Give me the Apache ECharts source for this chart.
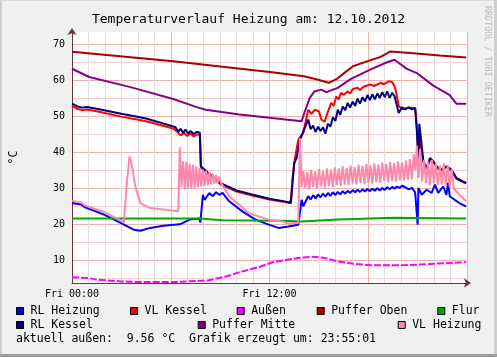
<!DOCTYPE html>
<html>
<head>
<meta charset="utf-8">
<script src="https://cdn.jsdelivr.net/npm/echarts@6/dist/echarts.min.js"></script>
<style>
html,body{margin:0;padding:0;background:#f0f0f0;}
#c{width:497px;height:357px;}
</style>
</head>
<body>
<div id="c"></div>
<script>
// ---- data (hours since Fri 00:00, °C) ----
const seriesNames = ['RL Heizung','VL Kessel','Außen','Puffer Oben','Flur','RL Kessel','Puffer Mitte','VL Heizung'];
const seriesColors = ['#0000ff','#ff0000','#ff00ff','#aa0000','#00aa00','#000080','#880088','#ff88aa'];
const yTickLabels = [10,20,30,40,50,60,70];
const yGridValues = [5,10,15,20,25,30,35,40,45,50,55,60,65,70];
const xTickLabels = {0:'Fri 00:00', 12:'Fri 12:00'};

const rlHeizung = [[0,26.0],[0.55,25.6],[0.75,24.9],[1.95,22.8],[2.95,20.5],[3.05,20.1],[3.75,18.6],[4.15,18.3],[4.75,19.1],[5.55,19.7],[6.55,20.1],[7.15,21.4],[7.75,21.7],[7.8,20.6],[7.95,28.3],[8.05,26.9],[8.35,28.8],[8.55,27.9],[8.75,29.0],[8.95,28.3],[9.15,28.8],[9.55,26.5],[10.35,23.7],[11.15,21.4],[11.95,20.0],[12.55,19.1],[13.15,19.5],[13.75,20.0],[13.95,26.9],[14.05,25.1],[14.35,27.9],[14.5,27.0],[14.65,28.2],[14.8,27.3],[14.95,28.4],[15.1,27.6],[15.25,28.6],[15.4,27.8],[15.55,28.8],[15.7,28.0],[15.85,29.0],[16.0,28.2],[16.15,29.1],[16.3,28.4],[16.45,29.3],[16.6,28.6],[16.75,29.4],[16.9,28.8],[17.05,29.6],[17.2,29.0],[17.35,29.7],[17.5,29.1],[17.65,29.8],[17.8,29.2],[17.95,29.9],[18.1,29.3],[18.25,30.0],[18.4,29.4],[18.55,30.1],[18.7,29.5],[18.85,30.2],[19.0,29.6],[19.15,30.4],[19.3,29.8],[19.45,30.5],[19.6,30.0],[19.75,30.6],[19.9,30.2],[20.05,30.8],[20.25,30.4],[20.45,29.8],[20.65,30.2],[20.85,29.0],[21.0,20.0],[21.05,30.2],[21.25,28.3],[21.55,29.7],[21.85,28.8],[22.05,31.1],[22.25,28.8],[22.55,30.6],[22.75,28.3],[22.85,31.6],[22.95,27.9],[23.25,26.9],[23.6,25.8],[23.95,25.1]];

const vlKessel = [[0,52.9],[0.3,52.2],[0.6,51.8],[0.9,52.0],[1.5,51.5],[3,50.0],[4.5,48.7],[6.15,46.7],[6.4,45.8],[6.6,44.8],[6.8,45.5],[7.0,44.6],[7.2,45.3],[7.4,44.5],[7.6,45.1],[7.77,44.8],[7.83,35.8],[8.0,35.2],[8.5,33.2],[9.0,31.3],[10,29.2],[11,28.0],[12,27.0],[13,26.2],[13.2,26.0],[13.3,27.0],[13.4,33.0],[13.55,38.5],[13.75,43.6],[14.05,45.5],[14.35,51.9],[14.55,50.8],[14.75,51.9],[15.0,51.5],[15.15,49.2],[15.35,48.6],[15.45,50.1],[15.75,53.8],[15.9,53.0],[16.05,55.5],[16.2,54.8],[16.35,56.6],[16.5,56.0],[16.75,57.0],[16.9,56.4],[17.05,57.6],[17.35,58.0],[17.5,57.4],[17.7,58.3],[18.15,58.9],[18.35,58.5],[18.75,59.4],[18.95,59.0],[19.25,59.8],[19.45,59.6],[19.6,58.4],[19.7,56.6],[19.85,52.9],[20.1,52.1],[20.5,52.5],[20.85,52.4],[20.95,47.0],[21.05,38.5],[21.1,45.0],[21.2,41.0],[21.35,37.4],[21.55,35.5],[21.75,38.0],[21.95,37.4],[22.25,35.5],[22.45,35.0],[22.75,36.0],[23.05,35.0],[23.35,32.8],[23.65,32.0],[23.95,31.4]];

const aussen = [[0,5.4],[0.95,5.2],[1.55,4.7],[2.95,4.25],[4.15,4.05],[6.15,4.05],[7.75,4.4],[8.15,4.4],[9.35,5.6],[10.35,7.0],[11.35,8.25],[12.15,9.5],[13.15,10.3],[13.75,10.75],[14.55,11.1],[15.15,10.9],[15.55,10.5],[16.15,9.8],[17.0,9.2],[18.15,8.7],[20.15,8.7],[21.75,9.1],[23.55,9.5],[23.95,9.56]];

const pufferOben = [[0,68.0],[6.15,65.4],[12.15,62.3],[14.1,61.2],[14.9,60.3],[15.6,59.4],[16.1,60.5],[16.65,62.5],[17.07,64.0],[17.97,65.4],[18.75,66.6],[19.35,68.1],[20.55,67.7],[22.35,67.0],[23.95,66.4]];

const flur = [[0,21.7],[4,21.7],[7.75,21.7],[9.15,21.2],[12.75,21.1],[13.95,20.9],[16.15,21.4],[19.55,21.9],[23.95,21.7]];

const rlKessel = [[0,53.6],[0.3,52.9],[0.6,52.5],[0.9,52.7],[1.5,52.2],[3,50.8],[4.5,49.5],[6.15,47.3],[6.3,47.0],[6.45,45.8],[6.6,46.6],[6.75,45.5],[6.9,46.4],[7.05,45.3],[7.2,46.0],[7.4,45.2],[7.6,45.8],[7.77,45.5],[7.83,36.2],[8.0,35.5],[8.5,33.5],[9.0,31.6],[10.0,29.5],[11.0,28.3],[12.0,27.2],[13.0,26.4],[13.3,26.0],[13.5,37.1],[13.65,38.5],[13.85,43.6],[14.15,46.9],[14.35,49.2],[14.5,46.5],[14.65,47.5],[14.8,45.8],[14.95,47.2],[15.1,46.0],[15.25,47.0],[15.4,45.3],[15.55,48.0],[15.7,47.2],[15.85,49.8],[16.0,48.8],[16.15,51.9],[16.3,50.5],[16.45,52.8],[16.6,51.8],[16.75,53.8],[16.9,52.5],[17.05,54.2],[17.2,53.0],[17.35,55.0],[17.5,53.6],[17.65,55.4],[17.8,54.2],[17.95,56.0],[18.1,54.6],[18.25,56.2],[18.4,54.8],[18.55,56.4],[18.7,55.2],[18.85,56.8],[19.0,55.4],[19.15,57.0],[19.3,55.2],[19.45,56.6],[19.6,55.6],[19.7,53.8],[19.85,51.0],[20.05,52.6],[20.25,52.0],[20.45,52.6],[20.65,52.0],[20.85,52.4],[20.95,46.4],[21.0,41.7],[21.05,38.0],[21.1,48.0],[21.2,44.0],[21.35,37.6],[21.55,35.7],[21.75,38.5],[21.95,37.6],[22.25,35.7],[22.45,35.3],[22.75,36.2],[23.05,35.3],[23.35,33.0],[23.65,32.2],[23.95,31.6]];

const pufferMitte = [[0,63.3],[1.05,61.0],[3.55,58.2],[6.15,54.9],[7.53,52.7],[8.13,51.9],[10.17,50.6],[12.15,49.6],[13.95,48.7],[14.15,51.5],[14.45,55.2],[14.73,57.0],[15.15,57.5],[15.45,56.8],[16.15,58.0],[16.95,60.5],[18.15,63.1],[19.15,65.1],[19.59,65.8],[20.35,63.25],[20.95,62.1],[21.95,58.6],[22.95,56.0],[23.35,53.6],[23.95,53.6]];

const vlHeizung = [[0,26.75],[0.3,26.3],[0.55,26.2],[0.75,25.4],[1.95,23.5],[2.95,21.2],[3.15,20.6],[3.35,32.5],[3.5,39.0],[3.65,36.2],[3.85,30.6],[4.15,26.0],[4.75,24.6],[5.55,24.2],[6.45,23.7],[6.55,41.5],[6.65,30.5],[6.75,37.6],[6.85,29.8],[6.95,37.5],[7.05,29.9],[7.15,37.0],[7.25,30.0],[7.35,36.6],[7.45,30.2],[7.55,36.2],[7.65,30.4],[7.75,35.8],[7.85,30.6],[7.95,35.3],[8.05,30.8],[8.15,35.0],[8.25,31.0],[8.35,34.6],[8.45,31.2],[8.55,34.2],[8.65,31.3],[8.75,33.8],[8.85,31.5],[8.95,33.4],[9.05,31.6],[9.55,27.9],[10.75,23.2],[11.95,21.4],[12.75,20.9],[13.15,20.3],[13.75,20.5],[13.85,44.0],[13.95,30.5],[14.05,35.0],[14.17,30.2],[14.29,34.6],[14.41,29.8],[14.53,35.2],[14.65,30.4],[14.77,34.8],[14.89,30.0],[15.01,35.4],[15.13,30.6],[15.25,35.0],[15.37,30.3],[15.49,35.6],[15.61,30.8],[15.73,35.3],[15.85,30.5],[15.97,35.9],[16.09,31.0],[16.21,35.6],[16.33,30.8],[16.45,36.2],[16.57,31.2],[16.69,35.8],[16.81,31.0],[16.93,36.4],[17.05,31.4],[17.17,36.0],[17.29,31.2],[17.41,36.6],[17.53,31.5],[17.65,36.3],[17.77,31.3],[17.89,36.8],[18.01,31.6],[18.13,36.5],[18.25,31.4],[18.37,37.0],[18.49,31.8],[18.61,36.7],[18.73,31.6],[18.85,37.2],[18.97,32.0],[19.09,36.9],[19.21,31.8],[19.33,37.4],[19.45,32.1],[19.57,37.1],[19.69,32.0],[19.81,37.6],[19.93,32.3],[20.05,37.3],[20.17,32.2],[20.29,37.8],[20.41,32.5],[20.53,38.2],[20.65,32.6],[20.77,39.5],[20.87,35.0],[20.95,42.0],[21.05,33.0],[21.15,41.0],[21.27,32.0],[21.39,38.0],[21.51,31.5],[21.63,37.5],[21.75,31.0],[21.87,38.0],[21.99,31.5],[22.11,37.0],[22.23,31.0],[22.35,36.5],[22.47,31.2],[22.59,37.0],[22.71,30.8],[22.83,36.5],[22.95,30.5],[23.07,35.5],[23.2,30.0],[23.4,29.0],[23.6,28.0],[23.95,26.5]];

const seriesData = [rlHeizung, vlKessel, aussen, pufferOben, flur, rlKessel, pufferMitte, vlHeizung];

const titleText = 'Temperaturverlauf Heizung am: 12.10.2012';
const footerText = 'aktuell außen:  9.56 °C  Grafik erzeugt um: 23:55:01';
const watermark = 'RRDTOOL / TOBI OETIKER';

// ---- layout ----
const MONO = 'DejaVu Sans Mono';
const legendPos = [
  [16,305],[130,305],[236.7,305],[316.7,305],[437.3,305],
  [16,319],[197.7,319],[397.7,319]
];
const legendOrder = [0,1,2,3,4,5,6,7];

const chart = echarts.init(document.getElementById('c'), null, {renderer:'canvas'});

const legends = legendOrder.map((si, i) => ({
  data: [seriesNames[si]],
  left: legendPos[i][0], top: legendPos[i][1],
  padding: 0, icon: 'rect', itemWidth: 7, itemHeight: 7,
  selectedMode: false,
  itemStyle: {borderColor:'#000', borderWidth:1},
  textStyle: {fontFamily: MONO, fontSize: 11.5, color:'#000', padding:[0,0,0,2]}
}));

const series = seriesNames.map((n, i) => ({
  name: n, type: 'line', data: seriesData[i],
  showSymbol: false, symbol: 'none', animation: false,
  lineStyle: {width: 2, color: seriesColors[i], type: n === 'Außen' ? [7,2] : 'solid'},
  itemStyle: {color: seriesColors[i]},
  emphasis: {disabled: true}
}));

chart.setOption({
  animation: false,
  backgroundColor: '#f0f0f0',
  title: {
    text: titleText, left: 'center', top: 8,
    textStyle: {fontFamily: MONO, fontSize: 13, fontWeight: 'normal', color:'#000'}
  },
  legend: legends,
  grid: {left: 67, top: 32, width: 400, height: 251, backgroundColor:'#ffffff', show:true, borderWidth:0},
  xAxis: {
    type: 'value', min: 0, max: 24, interval: 1,
    axisLine: {show: true, lineStyle: {color:'#603838', width:1}, symbol:['none','arrow'], symbolSize:[7,7], symbolOffset:[0,4]},
    axisTick: {show: false},
    axisLabel: {
      fontFamily: MONO, fontSize: 10, color:'#000', margin: 6,
      formatter: v => xTickLabels[v] || '', showMaxLabel: false
    },
    splitLine: {show: true, showMinLine: true, lineStyle: {width:1, color: ['#f2b0b0','#e0e0e0','#e0e0e0','#e0e0e0','#e0e0e0','#e0e0e0']}}
  },
  yAxis: {
    type: 'value', min: 3.8, max: 73.5,
    name: '°C', nameLocation: 'middle', nameRotate: 90, nameGap: 52,
    nameTextStyle: {fontFamily: MONO, fontSize: 11.5, color:'#000'},
    axisLine: {show: true, lineStyle: {color:'#603838', width:1}, symbol:['none','arrow'], symbolSize:[7,7], symbolOffset:[0,4]},
    axisTick: {show: false, customValues: yGridValues},
    axisLabel: {fontFamily: MONO, fontSize: 10, color:'#000', margin: 7, customValues: yTickLabels},
    splitLine: {show: true, lineStyle: {width:1, color: ['#f5d2d2','#f2b0b0']}}
  },
  graphic: [
    {type:'rect', left:0, top:0, shape:{width:2, height:357}, style:{fill:'#cfcfcf'}, silent:true, z:-1},
    {type:'rect', left:0, top:0, shape:{width:497, height:1}, style:{fill:'#dcdcdc'}, silent:true, z:-1},
    {type:'rect', right:0, top:0, shape:{width:3, height:357}, style:{fill:'#cfcfcf'}, silent:true, z:-1},
    {type:'rect', left:0, bottom:0, shape:{width:497, height:3}, style:{fill:'#9e9e9e'}, silent:true, z:-1},
    {type:'text', left: 16, top: 333, style:{text: footerText, font: '11.5px "DejaVu Sans Mono"', fill:'#000'}, silent:true},
    {type:'text', x: 487, y: 6, rotation: -Math.PI/2, z: 10, style:{text: watermark, font: '8.4px "DejaVu Sans Mono"', fill:'#bdbdbd', align:'left', verticalAlign:'middle'}, silent:true}
  ],
  series: series
});
</script>
</body>
</html>
